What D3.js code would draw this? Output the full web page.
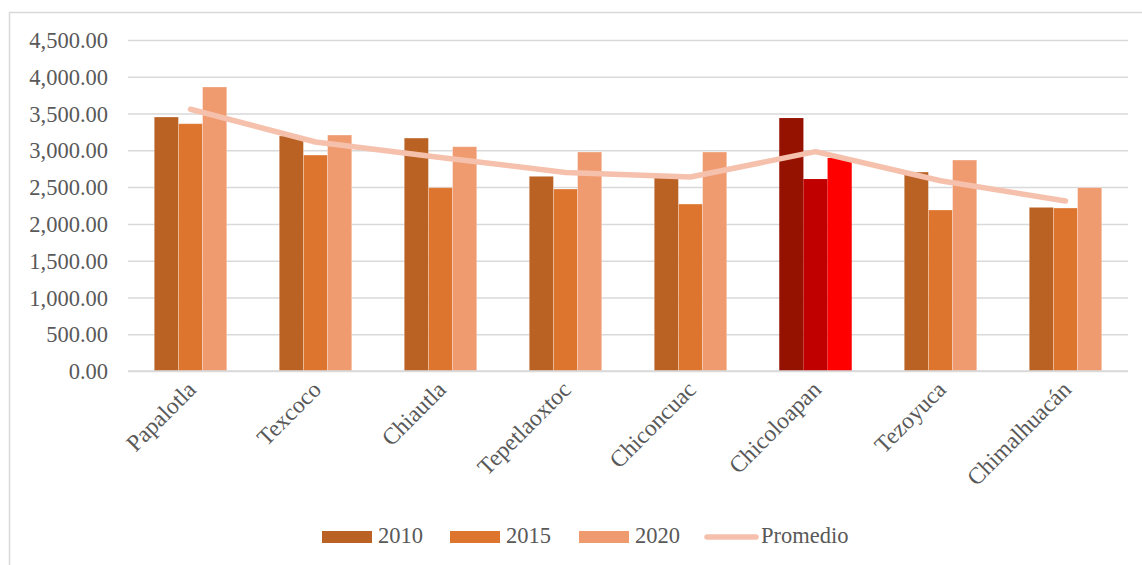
<!DOCTYPE html>
<html>
<head>
<meta charset="utf-8">
<script src="https://cdn.jsdelivr.net/npm/d3@7"></script>
<style>
  html, body { margin: 0; padding: 0; background: #fff; }
  svg { display: block; font-family: "Liberation Serif", "Times New Roman", serif; }
</style>
</head>
<body>
<svg id="chart" width="1142" height="565"></svg>
<script>
// Municipalities along the x axis
const municipios = ["Papalotla", "Texcoco", "Chiautla", "Tepetlaoxtoc", "Chiconcuac", "Chicoloapan", "Tezoyuca", "Chimalhuacán"];

// Values per year
const v2010 = [3453, 3195, 3167, 2647, 2665, 3439, 2705, 2225];
const v2015 = [3362, 2936, 2492, 2474, 2270, 2610, 2189, 2216];
const v2020 = [3861, 3208, 3049, 2977, 2977, 2896, 2868, 2492];

// Average line
const promedio = [3559, 3113, 2903, 2699, 2637, 2982, 2587, 2311];

// Y axis ticks
const yTicks = [0, 500, 1000, 1500, 2000, 2500, 3000, 3500, 4000, 4500];

const seriesNames = ["2010", "2015", "2020"];
const seriesColors = ["#BA6124", "#DE752F", "#F09A70"];
const highlightColors = ["#961200", "#C00000", "#FF0000"];
const highlighted = "Chicoloapan";
const lineColor = "#F5C1AC";
const textColor = "#595959";
const fontSize = 22.5;

const svg = d3.select("#chart");
const plotLeft = 128, plotRight = 1128, plotTop = 40, plotBottom = 371;

// Outer chart frame
svg.append("rect")
  .attr("x", 9.5).attr("y", 12.5)
  .attr("width", 1200).attr("height", 600)
  .attr("fill", "none").attr("stroke", "#D9D9D9").attr("stroke-width", 1.5);

const x = d3.scaleBand().domain(municipios).range([plotLeft, plotRight]).paddingInner(0).paddingOuter(0);
const x1 = d3.scaleBand().domain(seriesNames).range([0, x.bandwidth() * 0.58]);
const groupOffset = (x.bandwidth() - x1.range()[1]) / 2;
const y = d3.scaleLinear().domain([0, 4500]).range([plotBottom, plotTop]);

const fmt = d3.format(",.2f");

// Horizontal gridlines and tick labels
const yAxis = d3.axisLeft(y).tickValues(yTicks).tickSize(-(plotRight - plotLeft)).tickFormat(fmt).tickPadding(20);
const gy = svg.append("g").attr("transform", `translate(${plotLeft},0)`).call(yAxis);
gy.attr("font-family", null).attr("font-size", null);
gy.select(".domain").remove();
gy.selectAll(".tick line").attr("stroke", "#D9D9D9").attr("stroke-width", 1.5);
gy.selectAll(".tick text")
  .attr("fill", textColor)
  .attr("font-size", fontSize)
  .attr("dy", "0.34em");

// Bars
const rows = municipios.map((m, i) => ({ m, vals: [v2010[i], v2015[i], v2020[i]] }));
const groups = svg.append("g").selectAll("g").data(rows).join("g")
  .attr("transform", d => `translate(${x(d.m) + groupOffset},0)`);
groups.selectAll("rect")
  .data(d => d.vals.map((v, k) => ({ v, k, m: d.m })))
  .join("rect")
  .attr("x", d => x1(seriesNames[d.k]))
  .attr("y", d => y(d.v))
  .attr("width", x1.bandwidth())
  .attr("height", d => y(0) - y(d.v))
  .attr("fill", d => d.m === highlighted ? highlightColors[d.k] : seriesColors[d.k])
  .attr("stroke", d => d.m === highlighted ? "none" : "rgba(255,255,255,0.35)")
  .attr("stroke-width", 0.8);

// Baseline
svg.append("line")
  .attr("x1", plotLeft).attr("x2", plotRight)
  .attr("y1", y(0)).attr("y2", y(0))
  .attr("stroke", "#D9D9D9").attr("stroke-width", 1.5);

// Average line
const line = d3.line()
  .x((d, i) => x(municipios[i]) + x.bandwidth() / 2)
  .y(d => y(d));
svg.append("path")
  .datum(promedio)
  .attr("d", line)
  .attr("fill", "none")
  .attr("stroke", lineColor)
  .attr("stroke-width", 5.5)
  .attr("stroke-linecap", "round")
  .attr("stroke-linejoin", "round");

// Category labels
svg.append("g").selectAll("text").data(municipios).join("text")
  .attr("transform", d => `translate(${x(d) + x.bandwidth() / 2 + 7},${plotBottom + 20}) rotate(-45)`)
  .attr("text-anchor", "end")
  .attr("fill", textColor)
  .attr("font-size", 23.5)
  .text(d => d);

// Legend
const legend = svg.append("g");
const legendItems = [
  { name: "2010", type: "rect", color: seriesColors[0], x: 322 },
  { name: "2015", type: "rect", color: seriesColors[1], x: 450 },
  { name: "2020", type: "rect", color: seriesColors[2], x: 579 },
  { name: "Promedio", type: "line", color: lineColor, x: 705 }
];
legendItems.forEach(it => {
  if (it.type === "rect") {
    legend.append("rect").attr("x", it.x).attr("y", 531).attr("width", 50).attr("height", 12).attr("fill", it.color);
  } else {
    legend.append("line").attr("x1", it.x + 2).attr("x2", it.x + 51).attr("y1", 537).attr("y2", 537)
      .attr("stroke", it.color).attr("stroke-width", 5.5).attr("stroke-linecap", "round");
  }
  legend.append("text").attr("x", it.x + 56).attr("y", 543)
    .attr("fill", textColor).attr("font-size", fontSize).text(it.name);
});
</script>
</body>
</html>
